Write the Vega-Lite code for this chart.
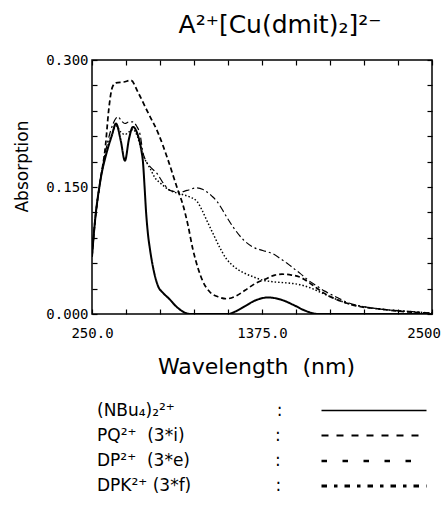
{
  "$schema": "https://vega.github.io/schema/vega-lite/v6.json",
  "width": 340,
  "height": 254,
  "autosize": {"type": "none"},
  "padding": {"left": 92, "top": 60, "right": 9, "bottom": 215},
  "background": "white",
  "config": {
    "view": {"stroke": "black", "strokeWidth": 1.5},
    "axis": {"domain": false, "grid": false, "tickColor": "black", "tickSize": -5, "tickWidth": 1.2,
             "labelColor": "black", "labelFont": "DejaVu Sans Mono", "labelFontSize": 14,
             "titleColor": "black", "titleFont": "DejaVu Sans", "titleFontWeight": "normal"},
    "legend": {"orient": "none", "legendX": 270, "legendY": 339, "direction": "vertical",
               "symbolType": "M-5,0H5", "symbolSize": 441, "symbolStrokeColor": "black",
               "labelFont": "DejaVu Sans", "labelFontSize": 17, "labelColor": "black",
               "labelAlign": "left", "labelOffset": -289, "labelLimit": 400, "rowPadding": 5, "padding": 0}
  },
  "title": {"text": "A²⁺[Cu(dmit)₂]²⁻", "font": "DejaVu Sans", "fontSize": 25, "fontWeight": "normal", "color": "black", "dx": 18, "offset": 15},
  "data": {"values": [
    {"s":"NBu4","wl":250,"a":0.068},{"s":"NBu4","wl":270,"a":0.11},{"s":"NBu4","wl":303,"a":0.155},{"s":"NBu4","wl":349,"a":0.192},{"s":"NBu4","wl":380,"a":0.21},{"s":"NBu4","wl":409,"a":0.225},{"s":"NBu4","wl":440,"a":0.205},{"s":"NBu4","wl":468,"a":0.181},{"s":"NBu4","wl":495,"a":0.207},{"s":"NBu4","wl":521,"a":0.221},{"s":"NBu4","wl":550,"a":0.213},{"s":"NBu4","wl":575,"a":0.195},{"s":"NBu4","wl":588,"a":0.178},{"s":"NBu4","wl":598,"a":0.15},{"s":"NBu4","wl":608,"a":0.12},{"s":"NBu4","wl":620,"a":0.095},{"s":"NBu4","wl":634,"a":0.076},{"s":"NBu4","wl":660,"a":0.05},{"s":"NBu4","wl":687,"a":0.033},{"s":"NBu4","wl":720,"a":0.025},{"s":"NBu4","wl":760,"a":0.018},{"s":"NBu4","wl":813,"a":0.008},{"s":"NBu4","wl":860,"a":0.002},{"s":"NBu4","wl":900,"a":0},{"s":"NBu4","wl":1000,"a":0},{"s":"NBu4","wl":1150,"a":0},{"s":"NBu4","wl":1200,"a":0.003},{"s":"NBu4","wl":1260,"a":0.009},{"s":"NBu4","wl":1330,"a":0.016},{"s":"NBu4","wl":1415,"a":0.0195},{"s":"NBu4","wl":1500,"a":0.017},{"s":"NBu4","wl":1580,"a":0.011},{"s":"NBu4","wl":1660,"a":0.004},{"s":"NBu4","wl":1746,"a":0},{"s":"NBu4","wl":2000,"a":0},{"s":"NBu4","wl":2500,"a":0},
    {"s":"PQ","wl":250,"a":0.068},{"s":"PQ","wl":270,"a":0.11},{"s":"PQ","wl":303,"a":0.155},{"s":"PQ","wl":340,"a":0.2},{"s":"PQ","wl":360,"a":0.24},{"s":"PQ","wl":385,"a":0.268},{"s":"PQ","wl":409,"a":0.273},{"s":"PQ","wl":460,"a":0.274},{"s":"PQ","wl":508,"a":0.276},{"s":"PQ","wl":554,"a":0.262},{"s":"PQ","wl":620,"a":0.238},{"s":"PQ","wl":687,"a":0.214},{"s":"PQ","wl":753,"a":0.182},{"s":"PQ","wl":819,"a":0.146},{"s":"PQ","wl":850,"a":0.13},{"s":"PQ","wl":885,"a":0.105},{"s":"PQ","wl":918,"a":0.076},{"s":"PQ","wl":950,"a":0.055},{"s":"PQ","wl":985,"a":0.038},{"s":"PQ","wl":1030,"a":0.026},{"s":"PQ","wl":1090,"a":0.02},{"s":"PQ","wl":1140,"a":0.018},{"s":"PQ","wl":1200,"a":0.021},{"s":"PQ","wl":1263,"a":0.028},{"s":"PQ","wl":1330,"a":0.036},{"s":"PQ","wl":1395,"a":0.041},{"s":"PQ","wl":1460,"a":0.046},{"s":"PQ","wl":1508,"a":0.047},{"s":"PQ","wl":1570,"a":0.046},{"s":"PQ","wl":1620,"a":0.044},{"s":"PQ","wl":1680,"a":0.038},{"s":"PQ","wl":1726,"a":0.032},{"s":"PQ","wl":1800,"a":0.023},{"s":"PQ","wl":1857,"a":0.018},{"s":"PQ","wl":1950,"a":0.012},{"s":"PQ","wl":2016,"a":0.009},{"s":"PQ","wl":2150,"a":0.006},{"s":"PQ","wl":2300,"a":0.003},{"s":"PQ","wl":2500,"a":0.001},
    {"s":"DP","wl":250,"a":0.068},{"s":"DP","wl":270,"a":0.11},{"s":"DP","wl":303,"a":0.155},{"s":"DP","wl":349,"a":0.195},{"s":"DP","wl":380,"a":0.212},{"s":"DP","wl":409,"a":0.222},{"s":"DP","wl":440,"a":0.215},{"s":"DP","wl":468,"a":0.212},{"s":"DP","wl":495,"a":0.215},{"s":"DP","wl":521,"a":0.218},{"s":"DP","wl":550,"a":0.21},{"s":"DP","wl":575,"a":0.195},{"s":"DP","wl":600,"a":0.183},{"s":"DP","wl":634,"a":0.172},{"s":"DP","wl":670,"a":0.16},{"s":"DP","wl":700,"a":0.155},{"s":"DP","wl":766,"a":0.146},{"s":"DP","wl":832,"a":0.142},{"s":"DP","wl":899,"a":0.138},{"s":"DP","wl":945,"a":0.133},{"s":"DP","wl":980,"a":0.122},{"s":"DP","wl":1011,"a":0.11},{"s":"DP","wl":1051,"a":0.095},{"s":"DP","wl":1097,"a":0.078},{"s":"DP","wl":1140,"a":0.065},{"s":"DP","wl":1183,"a":0.057},{"s":"DP","wl":1250,"a":0.049},{"s":"DP","wl":1316,"a":0.044},{"s":"DP","wl":1380,"a":0.04},{"s":"DP","wl":1448,"a":0.038},{"s":"DP","wl":1520,"a":0.037},{"s":"DP","wl":1580,"a":0.036},{"s":"DP","wl":1640,"a":0.034},{"s":"DP","wl":1693,"a":0.031},{"s":"DP","wl":1770,"a":0.025},{"s":"DP","wl":1845,"a":0.019},{"s":"DP","wl":1950,"a":0.012},{"s":"DP","wl":2070,"a":0.008},{"s":"DP","wl":2200,"a":0.005},{"s":"DP","wl":2350,"a":0.003},{"s":"DP","wl":2500,"a":0.001},
    {"s":"DPK","wl":250,"a":0.068},{"s":"DPK","wl":270,"a":0.11},{"s":"DPK","wl":303,"a":0.155},{"s":"DPK","wl":356,"a":0.205},{"s":"DPK","wl":390,"a":0.225},{"s":"DPK","wl":422,"a":0.233},{"s":"DPK","wl":445,"a":0.228},{"s":"DPK","wl":468,"a":0.225},{"s":"DPK","wl":495,"a":0.227},{"s":"DPK","wl":521,"a":0.227},{"s":"DPK","wl":545,"a":0.222},{"s":"DPK","wl":568,"a":0.212},{"s":"DPK","wl":588,"a":0.19},{"s":"DPK","wl":610,"a":0.18},{"s":"DPK","wl":634,"a":0.174},{"s":"DPK","wl":680,"a":0.166},{"s":"DPK","wl":720,"a":0.155},{"s":"DPK","wl":766,"a":0.146},{"s":"DPK","wl":832,"a":0.144},{"s":"DPK","wl":879,"a":0.146},{"s":"DPK","wl":945,"a":0.149},{"s":"DPK","wl":985,"a":0.147},{"s":"DPK","wl":1011,"a":0.144},{"s":"DPK","wl":1045,"a":0.139},{"s":"DPK","wl":1077,"a":0.133},{"s":"DPK","wl":1110,"a":0.124},{"s":"DPK","wl":1143,"a":0.114},{"s":"DPK","wl":1183,"a":0.103},{"s":"DPK","wl":1250,"a":0.088},{"s":"DPK","wl":1316,"a":0.079},{"s":"DPK","wl":1380,"a":0.075},{"s":"DPK","wl":1448,"a":0.071},{"s":"DPK","wl":1500,"a":0.065},{"s":"DPK","wl":1541,"a":0.06},{"s":"DPK","wl":1590,"a":0.053},{"s":"DPK","wl":1627,"a":0.048},{"s":"DPK","wl":1680,"a":0.04},{"s":"DPK","wl":1739,"a":0.033},{"s":"DPK","wl":1790,"a":0.027},{"s":"DPK","wl":1845,"a":0.022},{"s":"DPK","wl":1950,"a":0.013},{"s":"DPK","wl":2070,"a":0.008},{"s":"DPK","wl":2200,"a":0.005},{"s":"DPK","wl":2350,"a":0.003},{"s":"DPK","wl":2500,"a":0.001}
  ]},
  "layer": [
    {
      "mark": {"type": "line", "color": "black", "interpolate": "monotone", "clip": true},
      "encoding": {
        "x": {"field": "wl", "type": "quantitative",
              "scale": {"domain": [250, 2500], "nice": false, "zero": false},
              "axis": {"orient": "bottom", "values": [250,475,700,925,1150,1375,1600,1825,2050,2275,2500],
                       "labelExpr": "datum.value == 250 ? '250.0' : datum.value == 1375 ? '1375.0' : datum.value == 2500 ? '2500.0' : ''",
                       "labelPadding": 17, "labelFlush": false, "labelOverlap": false,
                       "title": "Wavelength\u00a0\u00a0(nm)", "titleFontSize": 22, "titleX": 164, "titleY": 59, "titleBaseline": "alphabetic"}},
        "y": {"field": "a", "type": "quantitative",
              "scale": {"domain": [0, 0.3], "nice": false},
              "axis": {"orient": "left", "values": [0,0.03,0.06,0.09,0.12,0.15,0.18,0.21,0.24,0.27,0.3],
                       "labelExpr": "datum.value == 0 ? '0.000' : datum.value == 0.15 ? '0.150' : datum.value == 0.3 ? '0.300' : ''",
                       "labelPadding": 9, "labelFlush": false, "labelOverlap": false,
                       "title": "Absorption", "titleFontSize": 17, "titleX": -70, "titleY": 106, "titleBaseline": "middle"}},
        "detail": {"field": "s"},
        "strokeDash": {"field": "s", "type": "nominal",
                       "scale": {"domain": ["NBu4", "PQ", "DP", "DPK"], "range": [[1,0],[5,3],[1.5,2],[7,3,2,3]]},
                       "legend": null},
        "strokeWidth": {"field": "s", "type": "nominal",
                        "scale": {"domain": ["NBu4", "PQ", "DP", "DPK"], "range": [2, 1.2, 1.3, 1.3]},
                        "legend": null}
      }
    },
    {
      "mark": {"type": "line", "color": "black", "opacity": 0},
      "encoding": {
        "x": {"field": "wl", "type": "quantitative",
              "axis": {"orient": "top", "values": [250,475,700,925,1150,1375,1600,1825,2050,2275,2500], "labels": false, "title": null}},
        "y": {"field": "a", "type": "quantitative",
              "axis": {"orient": "right", "values": [0,0.03,0.06,0.09,0.12,0.15,0.18,0.21,0.24,0.27,0.3], "labels": false, "title": null}},
        "strokeDash": {"field": "s", "type": "nominal",
                       "scale": {"domain": ["NBu4", "PQ", "DP", "DPK"], "range": [[1,0],[7,8],[5.5,15.5],[5.5,7,3.5,7]]},
                       "legend": {"title": null,
                                  "labelExpr": "datum.value == 'NBu4' ? '(NBu₄)₂²⁺\u2003\u2003\u2003\u2003\u2003\u2003:' : datum.value == 'PQ' ? 'PQ²⁺\u00a0\u00a0(3*i)\u2003\u2003\u2003\u2003\u2003\u00a0:' : datum.value == 'DP' ? 'DP²⁺\u00a0\u00a0(3*e)\u2003\u2003\u2003\u2003\u2003:' : 'DPK²⁺\u00a0(3*f)\u2003\u2003\u2003\u2003\u00a0\u00a0\u00a0:'"}},
        "strokeWidth": {"field": "s", "type": "nominal",
                        "scale": {"domain": ["NBu4", "PQ", "DP", "DPK"], "range": [1.5, 3, 5.5, 5]},
                        "legend": {"title": null,
                                   "labelExpr": "datum.value == 'NBu4' ? '(NBu₄)₂²⁺\u2003\u2003\u2003\u2003\u2003\u2003:' : datum.value == 'PQ' ? 'PQ²⁺\u00a0\u00a0(3*i)\u2003\u2003\u2003\u2003\u2003\u00a0:' : datum.value == 'DP' ? 'DP²⁺\u00a0\u00a0(3*e)\u2003\u2003\u2003\u2003\u2003:' : 'DPK²⁺\u00a0(3*f)\u2003\u2003\u2003\u2003\u00a0\u00a0\u00a0:'"}}
      }
    }
  ],
  "resolve": {"axis": {"x": "independent", "y": "independent"}, "scale": {"strokeDash": "independent", "strokeWidth": "independent"}}
}
